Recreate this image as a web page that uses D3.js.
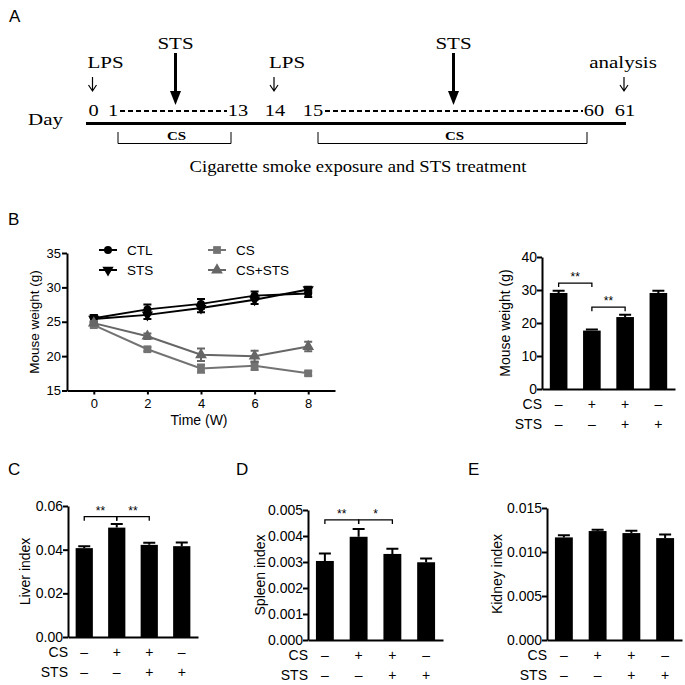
<!DOCTYPE html>
<html>
<head>
<meta charset="utf-8">
<script src="https://cdn.jsdelivr.net/npm/d3@7"></script>
<style>
  body { margin: 0; background: #fff; }
  svg { display: block; }
  .sans { font-family: "Liberation Sans", Arial, sans-serif; }
  .serif { font-family: "Liberation Serif", "Times New Roman", serif; }
</style>
</head>
<body>
<svg id="fig" width="685" height="685"></svg>
<script>
// ---- panel A: timeline ----
var timelineDays = ["0", "1", "13", "14", "15", "60", "61"]
var smallEvents = [
    { label: "LPS", day: "0", anchor: "start" },
    { label: "LPS", day: "14", anchor: "start" },
    { label: "analysis", day: "61", anchor: "middle" }
]
var csPeriods = [["1", "13"], ["15", "60"]]

// ---- panel B: body weight over time ----
var timeWeeks = [0, 2, 4, 6, 8]
var ctlWeight = [25.5, 26.8, 27.6, 28.8, 29.1]
var ctlErr = [0.5, 0.7, 0.7, 0.6, 0.5]
var stsWeight = [25.4, 26.0, 27.0, 28.2, 29.7]
var stsErr = [0.5, 0.6, 0.6, 0.6, 0.4]
var csWeight = [24.5, 21.0, 18.2, 18.6, 17.5]
var csErr = [0.3, 0.3, 0.6, 0.6, 0.3]
var csStsWeight = [24.8, 22.9, 20.2, 20.0, 21.4]
var csStsErr = [0.3, 0.4, 0.9, 0.8, 0.7]

// ---- bar panels ----
var groups = ["CTL", "CS", "CS+STS", "STS"]
var csSigns = ["\u2013", "+", "+", "\u2013"]
var stsSigns = ["\u2013", "\u2013", "+", "+"]

var finalWeight = [29.1, 17.7, 21.8, 29.1]
var finalWeightErr = [0.7, 0.3, 0.7, 0.7]
var liverIndex = [0.0407, 0.0501, 0.0422, 0.0416]
var liverErr = [0.0009, 0.0017, 0.0010, 0.0017]
var spleenIndex = [0.00304, 0.00397, 0.00331, 0.00299]
var spleenErr = [0.00029, 0.00030, 0.00020, 0.00014]
var kidneyIndex = [0.01166, 0.01238, 0.01215, 0.01158]
var kidneyErr = [0.00025, 0.00015, 0.00027, 0.00042]

var weightSig = [{ a: 0, b: 1, level: 32.1, label: "**" }, { a: 1, b: 2, level: 24.8, label: "**" }]
var liverSig = [{ a: 0, b: 1, level: 0.0551, label: "**" }, { a: 1, b: 2, level: 0.0551, label: "**" }]
var spleenSig = [{ a: 0, b: 1, level: 0.00462, label: "**" }, { a: 1, b: 2, level: 0.00462, label: "*" }]

var svg = d3.select("#fig")

// panel letters
var letters = [["A", 9, 22], ["B", 8, 225], ["C", 8, 475], ["D", 236, 475], ["E", 468, 475]]
svg.selectAll(".letter")
   .data(letters)
   .join("text")
   .attr("class", "sans")
   .attr("x", d => d[1])
   .attr("y", d => d[2])
   .attr("font-size", 17)
   .text(d => d[0])

// ================= PANEL A =================
var dayX = d3.scaleOrdinal()
             .domain(timelineDays)
             .range([93.5, 113, 238, 275, 313, 594, 625])

var gA = svg.append("g").attr("class", "serif")
var stretch = 1.2   // the timeline lettering is a bit wide in the figure
var place = (x, y) => `translate(${x},${y}) scale(${stretch},1)`

gA.append("text")
  .attr("transform", place(28, 125))
  .attr("font-size", 17.5)
  .text("Day")

gA.append("line")
  .attr("x1", 86).attr("x2", 626)
  .attr("y1", 123.5).attr("y2", 123.5)
  .attr("stroke", "#000")
  .attr("stroke-width", 3)

gA.selectAll(".day")
  .data(timelineDays)
  .join("text")
  .attr("transform", d => place(dayX(d), 116))
  .attr("text-anchor", "middle")
  .attr("font-size", 17)
  .text(d => d)

var halfW = d => d.length * 5
gA.selectAll(".dash")
  .data(csPeriods)
  .join("line")
  .attr("x1", d => dayX(d[0]) + halfW(d[0]) + 2)
  .attr("x2", d => dayX(d[1]) - halfW(d[1]) - 1)
  .attr("y1", 111).attr("y2", 111)
  .attr("stroke", "#000")
  .attr("stroke-width", 2)
  .attr("stroke-dasharray", "5,3")

// STS big arrows in the middle of each period
var mid = d => (dayX(d[0]) + dayX(d[1])) / 2
gA.selectAll(".stsShaft")
  .data(csPeriods)
  .join("line")
  .attr("x1", mid).attr("x2", mid)
  .attr("y1", 53).attr("y2", 93)
  .attr("stroke", "#000")
  .attr("stroke-width", 3)
gA.selectAll(".stsHead")
  .data(csPeriods)
  .join("path")
  .attr("d", d => `M${mid(d) - 5.5},91 L${mid(d) + 5.5},91 L${mid(d)},105 Z`)
  .attr("fill", "#000")
gA.selectAll(".stsLabel")
  .data(csPeriods)
  .join("text")
  .attr("transform", d => place(mid(d), 49))
  .attr("text-anchor", "middle")
  .attr("font-size", 17.5)
  .text("STS")

// small event arrows
gA.selectAll(".evLabel")
  .data(smallEvents)
  .join("text")
  .attr("transform", d => place(d.anchor == "start" ? dayX(d.day) - 6 : dayX(d.day) - 2, 68))
  .attr("text-anchor", d => d.anchor)
  .attr("font-size", 17.5)
  .text(d => d.label)
gA.selectAll(".evArrow")
  .data(smallEvents)
  .join("path")
  .attr("d", d => {
      var x = dayX(d.day) - 1
      return `M${x},77 L${x},91 M${x - 4},85 L${x},91 L${x + 4},85`
  })
  .attr("fill", "none")
  .attr("stroke", "#000")
  .attr("stroke-width", 1.2)

// CS brackets
gA.selectAll(".bracket")
  .data(csPeriods)
  .join("path")
  .attr("d", d => {
      var a = dayX(d[0]) + 5, b = dayX(d[1]) - 7
      return `M${a},132 L${a},143.5 L${b},143.5 L${b},132`
  })
  .attr("fill", "none")
  .attr("stroke", "#000")
  .attr("stroke-width", 1)
gA.selectAll(".csLabel")
  .data(csPeriods)
  .join("text")
  .attr("transform", d => place((dayX(d[0]) + dayX(d[1])) / 2 + 1, 140))
  .attr("text-anchor", "middle")
  .attr("font-size", 12.5)
  .attr("font-weight", "bold")
  .text("CS")

gA.append("text")
  .attr("transform", `translate(358,172) scale(1.165,1)`)
  .attr("text-anchor", "middle")
  .attr("font-size", 16)
  .text("Cigarette smoke exposure and STS treatment")

// ================= PANEL B (line) =================
var gB = svg.append("g").attr("class", "sans")

var xScale = d3.scaleLinear().domain([-1, 9]).range([67, 335])
var yScale = d3.scaleLinear().domain([15, 35]).range([390.5, 253])

var series = [
    { name: "CTL", values: ctlWeight, err: ctlErr, color: "#000", symbol: d3.symbolCircle, size: 50, rot: 0 },
    { name: "STS", values: stsWeight, err: stsErr, color: "#000", symbol: d3.symbolTriangle, size: 55, rot: 180 },
    { name: "CS", values: csWeight, err: csErr, color: "#737373", symbol: d3.symbolSquare, size: 60, rot: 0 },
    { name: "CS+STS", values: csStsWeight, err: csStsErr, color: "#666", symbol: d3.symbolTriangle, size: 60, rot: 0 }
]

var lineGen = d3.line()
    .x((d, i) => xScale(timeWeeks[i]))
    .y(d => yScale(d))

var sg = gB.selectAll(".series")
    .data(series)
    .join("g")

sg.append("path")
  .attr("d", d => lineGen(d.values))
  .attr("fill", "none")
  .attr("stroke", d => d.color)
  .attr("stroke-width", 2)

sg.each(function(s) {
    var g = d3.select(this)
    var pts = s.values.map((v, i) => ({ t: timeWeeks[i], v: v, e: s.err[i] }))
    g.selectAll(".eb")
     .data(pts)
     .join("path")
     .attr("d", p => {
         var x = xScale(p.t), y1 = yScale(p.v - p.e), y2 = yScale(p.v + p.e)
         return `M${x},${y1} L${x},${y2} M${x - 4},${y1} L${x + 4},${y1} M${x - 4},${y2} L${x + 4},${y2}`
     })
     .attr("fill", "none")
     .attr("stroke", s.color)
     .attr("stroke-width", 2)
    g.selectAll(".mk")
     .data(pts)
     .join("path")
     .attr("d", d3.symbol().type(s.symbol).size(s.size))
     .attr("transform", p => `translate(${xScale(p.t)},${yScale(p.v)}) rotate(${s.rot})`)
     .attr("fill", s.color)
})

var xAxisGen = d3.axisBottom(xScale).tickValues(timeWeeks).tickSize(4).tickPadding(4).tickSizeOuter(0)
var xAxis = gB.append("g")
    .attr("transform", "translate(0,390.5)")
    .call(xAxisGen)
var yAxisGen = d3.axisLeft(yScale).ticks(4).tickSize(5).tickPadding(1).tickSizeOuter(0)
var yAxis = gB.append("g")
    .attr("transform", "translate(67,0)")
    .call(yAxisGen)
;[xAxis, yAxis].forEach(a => {
    a.selectAll("path, line").attr("stroke", "#000").attr("stroke-width", 2)
    a.selectAll("text").attr("font-size", 13).attr("fill", "#000").attr("font-family", null)
})

gB.append("text")
  .attr("x", 199)
  .attr("y", 425)
  .attr("text-anchor", "middle")
  .attr("font-size", 14)
  .text("Time (W)")

gB.append("text")
  .attr("transform", "translate(34,322) rotate(-90)")
  .attr("dy", "0.35em")
  .attr("text-anchor", "middle")
  .attr("font-size", 13.5)
  .text("Mouse weight (g)")

// legend
var legendPos = [[108, 250], [108, 270], [217, 250], [217, 270]]
var lg = gB.selectAll(".legend")
    .data(series)
    .join("g")
    .attr("transform", (d, i) => `translate(${legendPos[i][0]},${legendPos[i][1]})`)
lg.append("line")
  .attr("x1", -9).attr("x2", 9)
  .attr("stroke", d => d.color)
  .attr("stroke-width", 2)
lg.append("path")
  .attr("d", d => d3.symbol().type(d.symbol).size(d.size)())
  .attr("transform", d => `rotate(${d.rot})`)
  .attr("fill", d => d.color)
lg.append("text")
  .attr("x", 19)
  .attr("dy", "0.36em")
  .attr("font-size", 13.5)
  .text(d => d.name)

// ================= BAR PANELS =================
function barPanel(opt) {
    var g = svg.append("g").attr("class", "sans")
    var x = d3.scaleBand()
              .domain(groups)
              .range([opt.x0, opt.x1])
              .paddingInner(0.47)
              .paddingOuter(0.235)
    var y = d3.scaleLinear()
              .domain([0, opt.max])
              .range([opt.y0, opt.y1])

    var rows = groups.map((gr, i) => ({ g: gr, v: opt.values[i], e: opt.err[i] }))

    g.selectAll(".err")
     .data(rows)
     .join("path")
     .attr("d", r => {
         var cx = x(r.g) + x.bandwidth() / 2, yt = y(r.v + r.e)
         return `M${cx},${y(r.v)} L${cx},${yt} M${cx - 6},${yt} L${cx + 6},${yt}`
     })
     .attr("stroke", "#000")
     .attr("stroke-width", 2)
     .attr("fill", "none")

    g.selectAll(".bar")
     .data(rows)
     .join("rect")
     .attr("x", r => x(r.g))
     .attr("width", x.bandwidth())
     .attr("y", r => y(r.v))
     .attr("height", r => y(0) - y(r.v))
     .attr("fill", "#000")

    var yAxis = g.append("g")
        .attr("transform", `translate(${opt.x0},0)`)
        .call(d3.axisLeft(y).tickValues(opt.ticks).tickFormat(d3.format(opt.fmt))
                .tickSize(5).tickPadding(0).tickSizeOuter(0))
    var xAxis = g.append("g")
        .attr("transform", `translate(0,${opt.y0})`)
        .call(d3.axisBottom(x).tickSize(0).tickFormat("").tickSizeOuter(0))
    ;[xAxis, yAxis].forEach(a => {
        a.selectAll("path, line").attr("stroke", "#000").attr("stroke-width", 2)
        a.selectAll("text").attr("font-size", 14).attr("fill", "#000").attr("font-family", null)
    })

    g.append("text")
     .attr("transform", `translate(${opt.labelX},${(opt.y0 + opt.y1) / 2}) rotate(-90)`)
     .attr("dy", "0.35em")
     .attr("text-anchor", "middle")
     .attr("font-size", 14)
     .text(opt.label)

    // CS / STS treatment rows
    var signRows = [["CS", csSigns, 20], ["STS", stsSigns, 40]]
    signRows.forEach(sr => {
        g.append("text")
         .attr("x", opt.x0)
         .attr("y", opt.y0 + sr[2])
         .attr("text-anchor", "end")
         .attr("font-size", 14)
         .text(sr[0])
        g.selectAll(".sign" + sr[0])
         .data(groups)
         .join("text")
         .attr("x", d => x(d) + x.bandwidth() / 2)
         .attr("y", opt.y0 + sr[2])
         .attr("text-anchor", "middle")
         .attr("font-size", 14)
         .text((d, i) => sr[1][i])
    })

    // significance brackets
    var sig = opt.sig || []
    g.selectAll(".sig")
     .data(sig)
     .join("path")
     .attr("d", s => {
         var a = x(groups[s.a]) + x.bandwidth() / 2
         var b = x(groups[s.b]) + x.bandwidth() / 2
         var yy = y(s.level)
         return `M${a},${yy + 4} L${a},${yy} L${b},${yy} L${b},${yy + 4}`
     })
     .attr("fill", "none")
     .attr("stroke", "#000")
     .attr("stroke-width", 1.3)
    g.selectAll(".star")
     .data(sig)
     .join("text")
     .attr("x", s => (x(groups[s.a]) + x(groups[s.b])) / 2 + x.bandwidth() / 2)
     .attr("y", s => y(s.level) - 2)
     .attr("text-anchor", "middle")
     .attr("font-size", 12)
     .text(s => s.label)
}

barPanel({ x0: 542, x1: 675, y0: 389, y1: 257, max: 40, ticks: [0, 10, 20, 30, 40], fmt: "d",
           values: finalWeight, err: finalWeightErr, label: "Mouse weight (g)", labelX: 505, sig: weightSig })
barPanel({ x0: 68, x1: 198, y0: 637, y1: 506, max: 0.06, ticks: [0, 0.02, 0.04, 0.06], fmt: ".2f",
           values: liverIndex, err: liverErr, label: "Liver index", labelX: 25, sig: liverSig })
barPanel({ x0: 308, x1: 443, y0: 640, y1: 510, max: 0.005, ticks: [0, 0.001, 0.002, 0.003, 0.004, 0.005], fmt: ".3f",
           values: spleenIndex, err: spleenErr, label: "Spleen index", labelX: 260, sig: spleenSig })
barPanel({ x0: 547, x1: 682, y0: 640, y1: 508, max: 0.015, ticks: [0, 0.005, 0.010, 0.015], fmt: ".3f",
           values: kidneyIndex, err: kidneyErr, label: "Kidney index", labelX: 497 })
</script>
</body>
</html>
